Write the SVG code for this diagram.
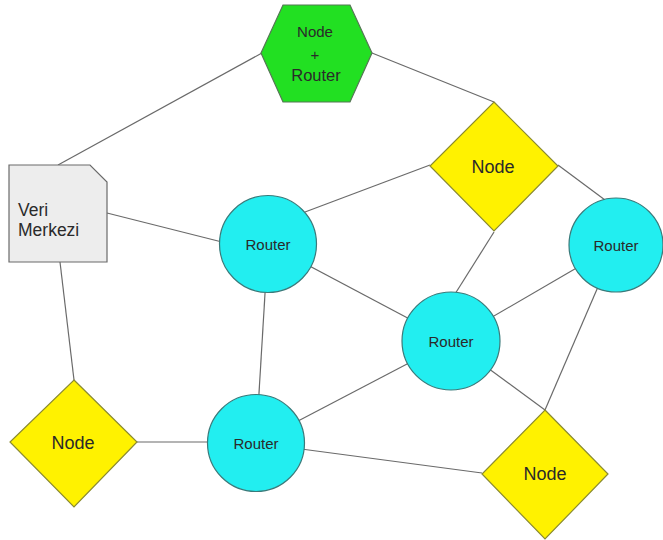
<svg xmlns="http://www.w3.org/2000/svg" width="663" height="540" viewBox="0 0 663 540">
<style>
.edge{stroke:#6a6a6a;stroke-width:1.2;fill:none}
.router{fill:#22eef0;stroke:#3a7a7a;stroke-width:1.2}
.node{fill:#fff200;stroke:#8a8a30;stroke-width:1.2}
.hex{fill:#22e022;stroke:#557755;stroke-width:1.2}
.dc{fill:#ededed;stroke:#6a6a6a;stroke-width:1.2}
text{font-family:"Liberation Sans",Arial,sans-serif;fill:#2a2a2a;text-anchor:middle}
.rt{font-size:15px}
.nt{font-size:18px}
.ht{font-size:15px}
.ht2{font-size:16.5px}
.dt{font-size:17.5px;text-anchor:start}
</style>
<rect width="663" height="540" fill="#ffffff"/>
<g id="connectors">
<line class="edge" x1="58" y1="165" x2="262" y2="53"/>
<line class="edge" x1="372" y1="53" x2="494" y2="102"/>
<line class="edge" x1="107" y1="213" x2="222" y2="242"/>
<line class="edge" x1="60" y1="262" x2="74" y2="380"/>
<line class="edge" x1="430" y1="165" x2="305" y2="212"/>
<line class="edge" x1="558" y1="165" x2="605" y2="200"/>
<line class="edge" x1="494" y1="232" x2="455" y2="294"/>
<line class="edge" x1="268" y1="244" x2="256" y2="443"/>
<line class="edge" x1="268" y1="244" x2="451" y2="341"/>
<line class="edge" x1="616" y1="245" x2="451" y2="341"/>
<line class="edge" x1="616" y1="245" x2="545" y2="410"/>
<line class="edge" x1="451" y1="341" x2="256" y2="443"/>
<line class="edge" x1="451" y1="341" x2="545" y2="410"/>
<line class="edge" x1="256" y1="443" x2="482" y2="473"/>
<line class="edge" x1="137" y1="442" x2="208" y2="442"/>
</g>
<g id="node-router-hex">
<polygon class="hex" points="261,53 283,5 350,5 372,53 350,102 283,102"/>
<text class="ht" x="315" y="37">Node</text>
<text class="ht" x="315" y="60">+</text>
<text class="ht2" x="316" y="81">Router</text>
</g>
<g id="veri-merkezi">
<polygon class="dc" points="9,165 90,165 107,182 107,262 9,262"/>
<text class="dt" x="18" y="216">Veri</text>
<text class="dt" x="18" y="236">Merkezi</text>
</g>
<g id="node-top">
<polygon class="node" points="494,102 558,166 494,231 430,166"/>
<text class="nt" x="493" y="173">Node</text>
</g>
<g id="node-left">
<polygon class="node" points="74,380 137,442 74,507 10,442"/>
<text class="nt" x="73" y="449">Node</text>
</g>
<g id="node-bottom">
<polygon class="node" points="545,410 608,474 545,539 482,474"/>
<text class="nt" x="545" y="480">Node</text>
</g>
<g id="router-1">
<circle class="router" cx="268" cy="244" r="48.5"/>
<text class="rt" x="268" y="250">Router</text>
</g>
<g id="router-right">
<circle class="router" cx="616" cy="245" r="47"/>
<text class="rt" x="616" y="251">Router</text>
</g>
<g id="router-mid">
<circle class="router" cx="451" cy="341" r="49"/>
<text class="rt" x="451" y="347">Router</text>
</g>
<g id="router-bottom">
<circle class="router" cx="256" cy="443" r="48.5"/>
<text class="rt" x="256" y="449">Router</text>
</g>
</svg>
